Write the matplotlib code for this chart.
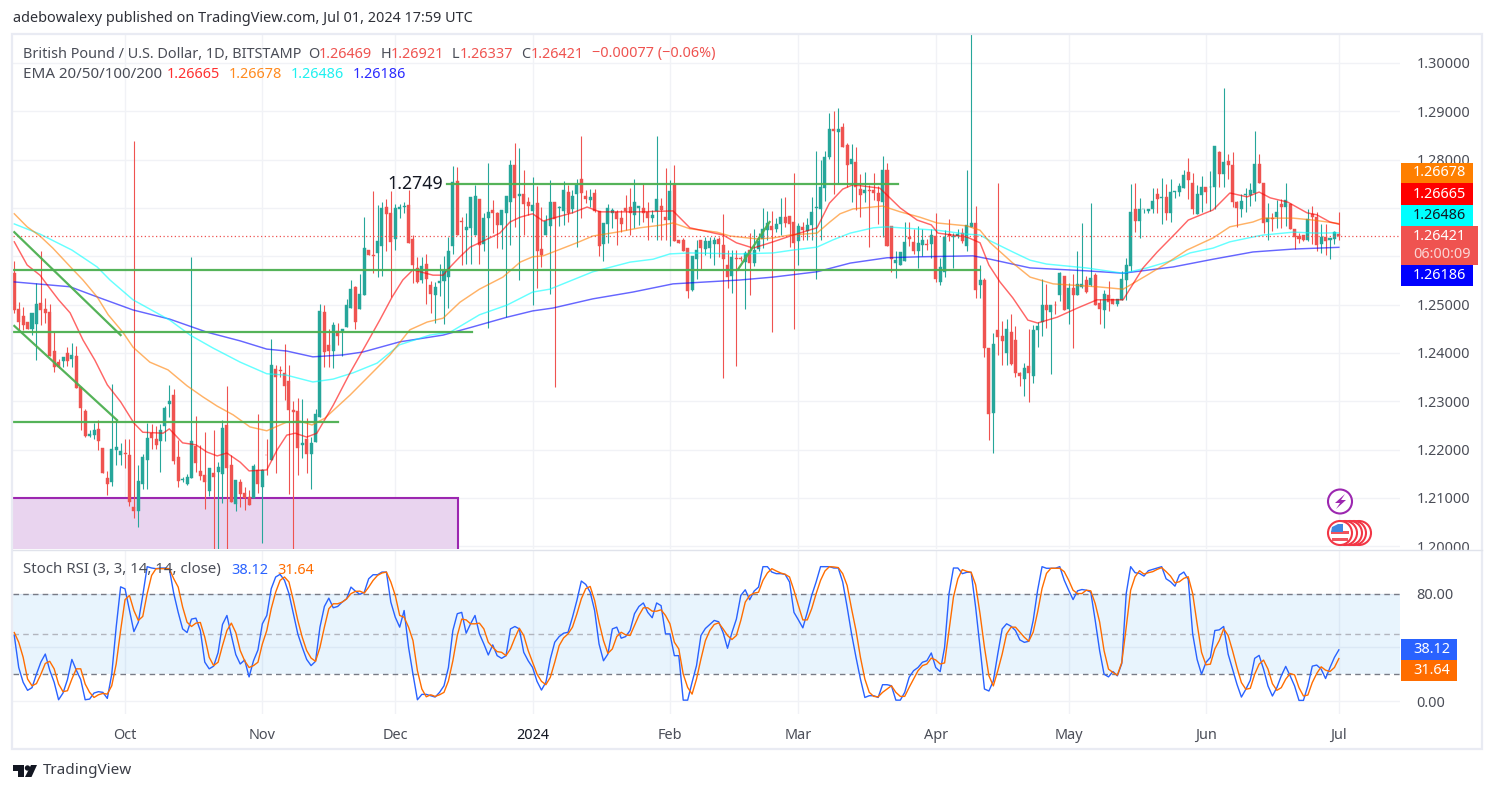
import matplotlib
matplotlib.use('Agg')
import matplotlib.pyplot as plt
from matplotlib.patches import Rectangle, Circle, Polygon, Wedge
import pandas as pd

# daily bars, seven days a week
first_day = '2023-09-06'

opens = [
    1.2565,1.2491,1.2477,1.2464,1.2450,1.2460,1.2503,1.2492,1.2485,1.2404,
    1.2382,1.2383,1.2399,1.2387,1.2394,1.2329,1.2280,1.2228,1.2230,1.2243,
    1.2203,1.2141,1.2132,1.2199,1.2189,1.2193,1.2189,1.2082,1.2072,1.2129,
    1.2179,1.2234,1.2223,1.2217,1.2248,1.2295,1.2313,1.2185,1.2138,1.2129,
    1.2142,1.2208,1.2156,1.2148,1.2115,1.2151,1.2154,1.2150,1.2251,1.2168,
    1.2087,1.2133,1.2110,1.2101,1.2099,1.2158,1.2123,1.2189,1.2179,1.2366,
    1.2365,1.2358,1.2342,1.2282,1.2280,1.2210,1.2222,1.2192,1.2215,1.2267,
    1.2484,1.2417,1.2404,1.2445,1.2446,1.2454,1.2494,1.2537,1.2491,1.2520,
    1.2613,1.2602,1.2607,1.2621,1.2702,1.2690,1.2636,1.2697,1.2702,1.2706,
    1.2636,1.2576,1.2550,1.2585,1.2540,1.2519,1.2545,1.2549,1.2557,1.2621,
    1.2756,1.2673,1.2654,1.2659,1.2644,1.2718,1.2626,1.2680,1.2696,1.2689,
    1.2665,1.2689,1.2713,1.2789,1.2725,1.2729,1.2712,1.2694,1.2710,1.2615,
    1.2644,1.2663,1.2712,1.2700,1.2694,1.2734,1.2698,1.2729,1.2760,1.2725,
    1.2716,1.2732,1.2693,1.2625,1.2667,1.2690,1.2692,1.2679,1.2699,1.2703,
    1.2686,1.2701,1.2699,1.2692,1.2680,1.2694,1.2705,1.2682,1.2675,1.2748,
    1.2633,1.2634,1.2617,1.2530,1.2595,1.2634,1.2616,1.2617,1.2625,1.2635,
    1.2623,1.2581,1.2560,1.2596,1.2596,1.2589,1.2613,1.2586,1.2616,1.2636,
    1.2654,1.2662,1.2657,1.2667,1.2682,1.2683,1.2671,1.2632,1.2661,1.2652,
    1.2665,1.2699,1.2698,1.2742,1.2805,1.2863,1.2858,1.2867,1.2830,1.2791,
    1.2796,1.2739,1.2732,1.2738,1.2738,1.2732,1.2713,1.2779,1.2663,1.2586,
    1.2582,1.2590,1.2640,1.2630,1.2612,1.2623,1.2625,1.2625,1.2642,1.2547,
    1.2567,1.2647,1.2641,1.2643,1.2649,1.2621,1.2660,1.2669,1.2540,1.2550,
    1.2411,1.2275,1.2447,1.2435,1.2400,1.2444,1.2426,1.2358,1.2347,1.2373,
    1.2352,1.2447,1.2464,1.2500,1.2485,1.2500,1.2519,1.2559,1.2490,1.2534,
    1.2519,1.2537,1.2550,1.2540,1.2562,1.2504,1.2488,1.2519,1.2511,1.2502,
    1.2509,1.2552,1.2580,1.2697,1.2674,1.2697,1.2694,1.2697,1.2728,1.2721,
    1.2723,1.2690,1.2734,1.2734,1.2742,1.2775,1.2752,1.2688,1.2727,1.2743,
    1.2743,1.2743,1.2816,1.2771,1.2797,1.2788,1.2712,1.2697,1.2726,1.2726,
    1.2731,1.2790,1.2751,1.2671,1.2680,1.2681,1.2709,1.2702,1.2709,1.2657,
    1.2642,1.2645,1.2633,1.2688,1.2681,1.2625,1.2641,1.2633,1.2636,1.26469]
highs = [
    1.2590,1.2506,1.2496,1.2464,1.2483,1.2544,1.2611,1.2513,1.2501,1.2444,
    1.2387,1.2391,1.2413,1.2420,1.2414,1.2329,1.2284,1.2241,1.2256,1.2262,
    1.2203,1.2156,1.2336,1.2261,1.2213,1.2223,1.2223,1.2839,1.2168,1.2192,
    1.2256,1.2254,1.2248,1.2254,1.2290,1.2334,1.2325,1.2220,1.2144,1.2150,
    1.2599,1.2270,1.2210,1.2236,1.2161,1.2240,1.2175,1.2261,1.2332,1.2189,
    1.2137,1.2140,1.2123,1.2117,1.2170,1.2274,1.2159,1.2221,1.2428,1.2375,
    1.2373,1.2419,1.2375,1.2301,1.2306,1.2304,1.2265,1.2227,1.2285,1.2501,
    1.2499,1.2449,1.2465,1.2461,1.2450,1.2512,1.2552,1.2539,1.2563,1.2681,
    1.2613,1.2735,1.2706,1.2712,1.2719,1.2735,1.2709,1.2709,1.2713,1.2737,
    1.2645,1.2599,1.2599,1.2605,1.2548,1.2547,1.2584,1.2600,1.2640,1.2787,
    1.2785,1.2681,1.2690,1.2722,1.2748,1.2718,1.2689,1.2794,1.2717,1.2692,
    1.2696,1.2725,1.2799,1.2834,1.2824,1.2779,1.2723,1.2765,1.2745,1.2703,
    1.2686,1.2758,1.2712,1.2704,1.2756,1.2747,1.2737,1.2761,1.2849,1.2737,
    1.2739,1.2740,1.2693,1.2668,1.2708,1.2699,1.2696,1.2696,1.2727,1.2741,
    1.2761,1.2704,1.2750,1.2713,1.2696,1.2849,1.2720,1.2782,1.2758,1.2789,
    1.2633,1.2637,1.2617,1.2601,1.2634,1.2634,1.2641,1.2641,1.2641,1.2641,
    1.2688,1.2613,1.2613,1.2613,1.2600,1.2610,1.2648,1.2656,1.2648,1.2699,
    1.2694,1.2694,1.2680,1.2721,1.2722,1.2683,1.2772,1.2668,1.2671,1.2679,
    1.2722,1.2818,1.2799,1.2817,1.2896,1.2901,1.2906,1.2875,1.2835,1.2832,
    1.2827,1.2770,1.2775,1.2747,1.2772,1.2746,1.2808,1.2794,1.2663,1.2610,
    1.2608,1.2671,1.2671,1.2657,1.2663,1.2656,1.2635,1.2656,1.2689,1.2596,
    1.2654,1.2678,1.2649,1.2656,1.2659,1.2778,1.3060,1.2704,1.2581,1.2556,
    1.2411,1.2441,1.2751,1.2466,1.2471,1.2480,1.2456,1.2361,1.2380,1.2449,
    1.2457,1.2464,1.2554,1.2542,1.2500,1.2507,1.2567,1.2559,1.2544,1.2563,
    1.2612,1.2668,1.2559,1.2711,1.2566,1.2511,1.2531,1.2549,1.2511,1.2512,
    1.2569,1.2596,1.2749,1.2751,1.2721,1.2698,1.2698,1.2742,1.2742,1.2762,
    1.2749,1.2760,1.2736,1.2752,1.2778,1.2804,1.2773,1.2747,1.2767,1.2743,
    1.2776,1.2829,1.2818,1.2949,1.2811,1.2816,1.2714,1.2728,1.2742,1.2752,
    1.2859,1.2811,1.2752,1.2711,1.2690,1.2716,1.2719,1.2751,1.2711,1.2657,
    1.2649,1.2645,1.2697,1.2704,1.2691,1.2666,1.2666,1.2638,1.2652,1.26921]
lows = [
    1.2483,1.2448,1.2448,1.2450,1.2437,1.2386,1.2457,1.2461,1.2394,1.2361,
    1.2368,1.2370,1.2373,1.2372,1.2327,1.2241,1.2227,1.2227,1.2221,1.2199,
    1.2152,1.2106,1.2125,1.2168,1.2168,1.2161,1.2083,1.2059,1.2039,1.2118,
    1.2119,1.2201,1.2201,1.2154,1.2217,1.2268,1.2170,1.2122,1.2132,1.2127,
    1.2142,1.2154,1.2137,1.2078,1.2105,1.1995,1.1995,1.2090,1.1995,1.2092,
    1.2073,1.2082,1.2075,1.2085,1.2099,1.2110,1.2006,1.2148,1.2179,1.2151,
    1.2350,1.2303,1.2108,1.1995,1.2148,1.2182,1.2152,1.2119,1.2215,1.2267,
    1.2372,1.2370,1.2368,1.2417,1.2394,1.2454,1.2494,1.2449,1.2491,1.2520,
    1.2603,1.2565,1.2557,1.2560,1.2612,1.2516,1.2614,1.2680,1.2690,1.2628,
    1.2545,1.2545,1.2545,1.2501,1.2483,1.2463,1.2518,1.2460,1.2494,1.2605,
    1.2644,1.2582,1.2584,1.2585,1.2644,1.2585,1.2610,1.2451,1.2648,1.2617,
    1.2615,1.2475,1.2623,1.2661,1.2550,1.2644,1.2685,1.2499,1.2534,1.2578,
    1.2644,1.2523,1.2329,1.2663,1.2665,1.2671,1.2689,1.2620,1.2680,1.2710,
    1.2703,1.2692,1.2601,1.2591,1.2627,1.2658,1.2623,1.2651,1.2654,1.2644,
    1.2658,1.2665,1.2671,1.2634,1.2671,1.2634,1.2634,1.2634,1.2621,1.2632,
    1.2628,1.2612,1.2513,1.2529,1.2554,1.2573,1.2603,1.2596,1.2582,1.2599,
    1.2349,1.2534,1.2525,1.2374,1.2590,1.2492,1.2519,1.2579,1.2610,1.2617,
    1.2634,1.2444,1.2650,1.2644,1.2661,1.2620,1.2450,1.2582,1.2633,1.2634,
    1.2634,1.2553,1.2634,1.2714,1.2801,1.2729,1.2751,1.2827,1.2744,1.2712,
    1.2696,1.2681,1.2713,1.2619,1.2716,1.2667,1.2641,1.2621,1.2568,1.2556,
    1.2582,1.2590,1.2621,1.2604,1.2575,1.2600,1.2614,1.2597,1.2547,1.2540,
    1.2557,1.2631,1.2575,1.2638,1.2628,1.2611,1.2660,1.2513,1.2513,1.2392,
    1.2220,1.2194,1.2396,1.2376,1.2376,1.2376,1.2350,1.2332,1.2311,1.2298,
    1.2337,1.2412,1.2435,1.2452,1.2356,1.2481,1.2507,1.2489,1.2459,1.2411,
    1.2519,1.2535,1.2525,1.2538,1.2500,1.2459,1.2451,1.2487,1.2502,1.2497,
    1.2509,1.2509,1.2569,1.2651,1.2638,1.2689,1.2690,1.2690,1.2690,1.2666,
    1.2676,1.2671,1.2721,1.2725,1.2742,1.2718,1.2687,1.2687,1.2692,1.2711,
    1.2694,1.2697,1.2744,1.2744,1.2761,1.2703,1.2660,1.2682,1.2691,1.2704,
    1.2714,1.2751,1.2649,1.2633,1.2652,1.2658,1.2659,1.2663,1.2656,1.2616,
    1.2628,1.2631,1.2631,1.2625,1.2612,1.2606,1.2603,1.2594,1.2625,1.26337]
closes = [
    1.2489,1.2465,1.2457,1.2450,1.2483,1.2501,1.2489,1.2482,1.2394,1.2370,
    1.2370,1.2391,1.2383,1.2395,1.2327,1.2287,1.2228,1.2232,1.2241,1.2217,
    1.2152,1.2129,1.2201,1.2205,1.2197,1.2190,1.2092,1.2074,1.2135,1.2185,
    1.2225,1.2225,1.2210,1.2241,1.2286,1.2300,1.2177,1.2136,1.2140,1.2143,
    1.2218,1.2173,1.2146,1.2132,1.2161,1.2144,1.2164,1.2244,1.2163,1.2092,
    1.2137,1.2108,1.2099,1.2085,1.2166,1.2129,1.2158,1.2188,1.2375,1.2351,
    1.2363,1.2332,1.2281,1.2278,1.2204,1.2214,1.2191,1.2214,1.2274,1.2487,
    1.2403,1.2404,1.2458,1.2435,1.2449,1.2499,1.2532,1.2465,1.2522,1.2617,
    1.2603,1.2600,1.2632,1.2700,1.2688,1.2630,1.2700,1.2702,1.2705,1.2628,
    1.2582,1.2547,1.2580,1.2553,1.2522,1.2537,1.2549,1.2570,1.2611,1.2754,
    1.2644,1.2670,1.2660,1.2722,1.2725,1.2623,1.2679,1.2691,1.2689,1.2665,
    1.2696,1.2725,1.2789,1.2721,1.2729,1.2708,1.2704,1.2706,1.2612,1.2603,
    1.2674,1.2712,1.2677,1.2703,1.2737,1.2690,1.2725,1.2748,1.2730,1.2719,
    1.2722,1.2693,1.2622,1.2668,1.2699,1.2696,1.2677,1.2667,1.2694,1.2690,
    1.2712,1.2704,1.2690,1.2680,1.2686,1.2719,1.2695,1.2675,1.2736,1.2632,
    1.2628,1.2612,1.2529,1.2601,1.2614,1.2617,1.2631,1.2632,1.2634,1.2625,
    1.2594,1.2558,1.2598,1.2594,1.2595,1.2607,1.2586,1.2613,1.2631,1.2656,
    1.2668,1.2654,1.2667,1.2682,1.2668,1.2666,1.2628,1.2662,1.2654,1.2665,
    1.2691,1.2703,1.2744,1.2805,1.2863,1.2860,1.2863,1.2827,1.2788,1.2801,
    1.2743,1.2727,1.2737,1.2736,1.2732,1.2714,1.2779,1.2621,1.2594,1.2592,
    1.2608,1.2630,1.2635,1.2611,1.2627,1.2633,1.2623,1.2645,1.2554,1.2578,
    1.2641,1.2642,1.2643,1.2647,1.2632,1.2664,1.2669,1.2530,1.2550,1.2411,
    1.2274,1.2418,1.2433,1.2425,1.2449,1.2378,1.2358,1.2352,1.2368,1.2358,
    1.2447,1.2456,1.2500,1.2488,1.2500,1.2499,1.2565,1.2489,1.2535,1.2519,
    1.2542,1.2542,1.2526,1.2556,1.2500,1.2492,1.2521,1.2505,1.2502,1.2512,
    1.2554,1.2581,1.2692,1.2673,1.2698,1.2698,1.2698,1.2714,1.2718,1.2723,
    1.2690,1.2734,1.2736,1.2745,1.2769,1.2758,1.2697,1.2728,1.2743,1.2733,
    1.2744,1.2829,1.2771,1.2795,1.2788,1.2712,1.2699,1.2714,1.2728,1.2738,
    1.2792,1.2751,1.2668,1.2680,1.2678,1.2692,1.2702,1.2716,1.2656,1.2640,
    1.2635,1.2633,1.2678,1.2681,1.2623,1.2641,1.2632,1.2638,1.2650,1.26421]

ema20_bar = [0,2.9,5.8,8,10,12.6,15.5,18.2,21,24,27,29,33.6,35,38,41,43.5,45.8,48,51,53,57,59.3,61.5,63.4,66,68.3,72,75.8,80,82.5,85.3,87.7,90,94.5,96.8,98.4,100.6,102.9,105,109.6,111.9,114.2,117,119.4,121.6,126,129.3,132.2,141.2,148.7,152.5,160,163,166.8,171.3,175.8,181.2,184,187,189.3,195.4,200,203.8,207,208.5,215,218,220,222.5,225.4,228.8,231,235.4,240,244.4,250.3,254.8,258,262.4,265,270.6,274.4,278.3,281,283.5,287.5,291.8,294,297,299]
ema20_val = [1.2630,1.2582,1.2561,1.2534,1.2510,1.2483,1.2427,1.2385,1.2334,1.2299,1.2255,1.2236,1.2234,1.2243,1.2214,1.2210,1.2195,1.2187,1.2193,1.2174,1.2156,1.2158,1.2199,1.2230,1.2234,1.2226,1.2234,1.2292,1.2359,1.2427,1.2468,1.2516,1.2551,1.2572,1.2561,1.2561,1.2578,1.2599,1.2619,1.2628,1.2648,1.2671,1.2681,1.2688,1.2673,1.2679,1.2690,1.2702,1.2692,1.2692,1.2694,1.2659,1.2644,1.2628,1.2617,1.2630,1.2644,1.2659,1.2710,1.2739,1.2748,1.2741,1.2700,1.2675,1.2665,1.2648,1.2640,1.2628,1.2582,1.2547,1.2514,1.2468,1.2462,1.2474,1.2493,1.2510,1.2510,1.2576,1.2609,1.2650,1.2675,1.2696,1.2731,1.2723,1.2733,1.2721,1.2712,1.2690,1.2686,1.2671,1.26665]
ema50_bar = [0,2.9,5.8,8.7,13.3,15.5,18.7,21.2,24.5,26.8,30.6,34.7,39,42.6,45.8,49.4,53.2,57,61.5,64.5,67.2,70.1,75.8,79.6,84.8,89.3,93.2,96.8,100.6,105,110.3,114.2,117,119.4,127,130.6,136,141.2,146.4,148.7,152.5,158.6,161.6,167.7,171.3,175,181.2,184.1,186.4,189.3,196,200,204.4,208.3,215,218,220.3,225.4,229.3,234.5,244.4,250.3,255.7,260.2,264.7,270.6,274.4,279.6,281.9,288.7,293.2,299]
ema50_val = [1.2688,1.2661,1.2642,1.2617,1.2572,1.2551,1.2516,1.2479,1.2443,1.2412,1.2381,1.2365,1.2332,1.2309,1.2290,1.2272,1.2247,1.2239,1.2257,1.2259,1.2251,1.2265,1.2313,1.2348,1.2396,1.2448,1.2464,1.2472,1.2505,1.2532,1.2557,1.2588,1.2599,1.2601,1.2628,1.2642,1.2650,1.2659,1.2665,1.2669,1.2657,1.2650,1.2642,1.2636,1.2638,1.2644,1.2648,1.2671,1.2688,1.2698,1.2704,1.2692,1.2681,1.2669,1.2663,1.2654,1.2628,1.2586,1.2557,1.2543,1.2537,1.2532,1.2561,1.2586,1.2613,1.2638,1.2661,1.2671,1.2679,1.2679,1.2675,1.26678]
ema100_bar = [0,5.8,13,18.7,21.6,26.8,35.1,39.7,44.9,51,57,61.5,67.4,72,76.5,81.9,87,93.8,98.4,105,111.2,117,120.9,130.6,139,144.2,148,152.5,163.8,171.3,175.8,181.2,184.8,188.7,193.9,197,200,208.3,215,218,220.3,225.4,229.3,233,242,250.3,255.7,261.6,265.4,270.6,274.4,279.6,281.9,288.7,294,299]
ema100_val = [1.2667,1.2646,1.2613,1.2578,1.2551,1.2510,1.2468,1.2437,1.2410,1.2381,1.2357,1.2354,1.2340,1.2346,1.2359,1.2379,1.2417,1.2437,1.2443,1.2479,1.2499,1.2526,1.2532,1.2568,1.2588,1.2594,1.2605,1.2607,1.2605,1.2607,1.2613,1.2619,1.2634,1.2648,1.2659,1.2661,1.2659,1.2654,1.2646,1.2644,1.2632,1.2609,1.2592,1.2584,1.2576,1.2565,1.2576,1.2592,1.2607,1.2617,1.2630,1.2640,1.2644,1.2650,1.2648,1.26486]
ema200_bar = [0,12.6,18.7,26.8,35.1,43.5,51,57,61.5,67.4,74.2,78.7,87,96.8,103.5,111.2,117,121.6,130.6,139.6,148.7,163.8,171.3,181.2,188.7,197,204.4,216.4,220.3,229.3,242,250.3,261.6,270.6,279.6,288.7,299]
ema200_val = [1.2547,1.2537,1.2516,1.2489,1.2470,1.2443,1.2425,1.2408,1.2404,1.2392,1.2396,1.2402,1.2423,1.2437,1.2454,1.2474,1.2487,1.2493,1.2512,1.2526,1.2543,1.2551,1.2557,1.2568,1.2586,1.2597,1.2599,1.2601,1.2594,1.2576,1.2570,1.2565,1.2578,1.2594,1.2609,1.2615,1.26186]

stoch_k = [
    48.8,25,14,8,10,20,29,35,23,14,
    1,6,16,31,23,16,1,1.5,6,7,
    6.5,2,20,55,85,83.5,67.4,51.7,58.7,78.6,
    100,99,98.5,99,99,98.5,80,66,53.7,51,
    61,61.7,52.5,29,24,26,36,57,63.7,48.8,
    34.6,27.6,30.6,18,30,38,57.5,63.7,83.6,92.3,
    94.3,89.8,80,65,50,40,31,26.4,29.6,55,
    70.4,76.6,69.4,70.4,73.6,76,84.8,81.8,79.4,81,
    91,94,94,96,96,73.6,62.4,55,67.4,40,
    20,1,5,5,4,3,6.5,11.4,25,52.5,
    65,66,50.5,57.5,63.7,50,42.5,34.3,41.8,33.8,
    31.8,33.8,53.7,55.5,53.7,36.3,30,25,14.7,8.2,
    14,31.3,43.8,48,50.5,51.2,62.4,74.9,89.3,86.8,
    81,67.4,42.5,30,35,53.7,55,46.8,48,52.5,
    65,70.4,73,66,62,73,71,50,50,33.8,
    33.8,0.7,0.7,14,26.4,48.8,54,57,60,59,
    51,39.3,51,61,78.6,82.8,75.4,81.8,84.8,100,
    100,96,94.8,94.8,94.3,88.6,66,60.4,54.5,66,
    78.6,88.6,100,100,100,99,99,88.6,70,50,
    32.6,16.4,2.7,4,4,2.7,12.2,12.2,11.4,0.7,
    0.7,6.5,17.7,22.6,25,28.9,30,35.8,25,21.9,
    40,79.9,99,99,94.8,95.8,95.8,70,40,9,
    7.5,15,35,53.7,57.5,55.7,52.5,45.5,43.7,44.5,
    60,82.5,100,98.8,98.8,98.8,100,90,82.5,75.5,
    82,83,82.5,81,60,37.5,20,18,22,18.8,
    28,80,100,95.5,95,93,97,98,99,100,
    91,88.8,85.5,93.8,96,90.5,50,31,20,28.8,
    32.5,52.5,53,55.5,35,23.8,12.5,3,8.8,15.5,
    31.8,34,23.8,11.3,3.8,10,18.8,25.8,18.8,11.3,
    0.5,0.5,11.3,26,26.8,23.8,16.8,25,32.5,38.12]
stoch_d = [
    51,43.8,32.6,16.4,11.4,13,20,28,29.6,24,
    12.7,7,7.7,16.4,24,24,12.7,6.5,2.7,4.7,
    5.7,5.2,11.4,27.6,52.5,75.4,78.6,67.4,60,63,
    80,93.5,98.5,98.5,98.5,98.5,91,84.8,70,58.7,
    55.5,58,58.5,47.5,32.6,26.4,28.9,41.3,52.5,58,
    51,37.6,30,25,26.4,28.9,42.5,52.5,68.7,81,
    89.8,92.3,88.6,74.9,60,47.5,37.6,32,29.6,40,
    55,68.7,72.4,72.4,73.6,76,79.9,81.6,81.8,80.3,
    84.8,89.8,93.5,95.3,96,88.6,78.6,63.7,62.4,55,
    45,22.6,9,3.2,4.7,3.5,4.7,6.5,15,30,
    48.8,61,60.4,57.5,57.5,58,53.7,43.8,40,36.8,
    36.3,33.8,38.8,47,54.2,48.8,37.6,28.9,20.1,14.7,
    12.2,17.7,28.9,41.3,47,50,55,64.9,76.1,83.6,
    85.3,74.9,58.7,45,35.5,38.8,48,51.2,49.3,48.8,
    56.2,63.7,69.4,69.4,66.9,66.9,67.9,63.7,57.5,43.8,
    38.8,20.1,10.2,5.2,16.4,31.3,44.9,52.5,57,58.2,
    53.7,48.8,45.8,48.8,60,73.6,78.6,80.3,81,89.8,
    95.3,98.5,96.8,95.3,94.3,92.3,82.3,71.1,60.4,60.4,
    68.7,79.9,89.8,96.8,100,99.8,99.3,94.8,86,68.7,
    52.5,32.6,16.4,6.5,3.5,3.2,6.5,9,11.4,6.5,
    3.5,3.5,10.2,16.4,22.6,26.4,27.6,32,30.6,27.6,
    28.4,52.5,77.4,91,97.8,96.5,95.8,86.6,64.9,40,
    18.9,11.3,22.5,35,50,55,55,51.3,47.5,44.5,
    51.3,66.3,83.8,95,98.8,98.8,98.8,96.3,90,82.5,
    80,80,82.5,82,72.5,58.8,37.5,23.8,21.3,19.3,
    28.8,55,82.5,92.5,97,94.5,95.5,96.3,98,99.3,
    96.3,93,88,88.8,91.3,92.5,80,57.5,36.3,27,
    27.5,38.8,45,53.8,48.8,37.5,25,13.8,8.8,9.5,
    20,27.5,30.5,23.8,13,8,10,16.3,20.5,19.5,
    10,3.8,4.5,13.8,20.5,25.5,23,22,25,31.64]

# drawn levels and trend lines
level_prices = [1.2749, 1.2572, 1.2443, 1.2258]
level_starts = [97.7, -1, -1, -1]
level_ends = [199.5, 218, 103.3, 73]
trend_bars = [(0, 24), (0, 23.2), (163.3, 170.5)]
trend_prices = [(1.2650, 1.2437), (1.2456, 1.2261), (1.2572, 1.2671)]

month_days = ['2023-10-01','2023-11-01','2023-12-01','2024-01-01','2024-02-01','2024-03-01','2024-04-01','2024-05-01','2024-06-01','2024-07-01']
month_names = ['Oct','Nov','Dec','2024','Feb','Mar','Apr','May','Jun','Jul']
price_ticks = [1.20,1.21,1.22,1.23,1.24,1.25,1.26,1.27,1.28,1.29,1.30]
# these two sit behind the price tags
hidden_ticks = [1.26, 1.27]

UP = '#26a69a'
DOWN = '#ef5350'
GRID = '#f1f2f6'
TEXT = '#4a4d57'
FONT = 10.4
W, H = 1496, 793


def px_axes(left, top, right, bottom, **kw):
    return plt.figure(1).add_axes([left / W, 1 - bottom / H, (right - left) / W, (bottom - top) / H], **kw)


def draw_candles(ax, bars):
    for i, (o, h, l, c) in enumerate(zip(opens, highs, lows, closes)):
        col = UP if c >= o else DOWN
        ax.vlines(bars[i], l, h, color=col, linewidth=0.8, zorder=3)
        ax.add_patch(Rectangle((bars[i] - 0.34, min(o, c)), 0.68, abs(c - o), facecolor=col, edgecolor=col, linewidth=0.3, zorder=3))


def setup_pane(ax, month_pos):
    ax.set_xlim(-0.29, 312.8)
    ax.set_xticks(month_pos)
    ax.grid(True, color=GRID, linewidth=1)
    ax.set_axisbelow(True)
    ax.tick_params(length=0, labelcolor=TEXT, labelsize=FONT)
    ax.yaxis.tick_right()
    for s in ax.spines.values():
        s.set_visible(False)


def main():
    plt.rcParams['font.family'] = ['Noto Sans', 'DejaVu Sans']
    fig = plt.figure(1, figsize=(W / 100, H / 100), dpi=100, facecolor='white')
    bars = list(range(len(closes)))
    start = pd.Timestamp(first_day)
    month_pos = [(pd.Timestamp(d) - start).days for d in month_days]

    ax = px_axes(13, 34, 1400, 549)
    setup_pane(ax, month_pos)
    ax.set_ylim(1.19944, 1.3060)
    ax.set_yticks(price_ticks)
    ax.set_yticklabels(['' if p in hidden_ticks else '%.5f' % p for p in price_ticks])
    ax.tick_params(axis='x', labelbottom=False)
    ax.tick_params(axis='y', pad=12)

    ax.add_patch(Rectangle((-1, 1.19), 101.2, 0.02, facecolor='#e9d4ef', edgecolor='#9c27b0', linewidth=1.5, zorder=2))
    draw_candles(ax, bars)
    for xs, ys, col in [(ema200_bar, ema200_val, '#0000ff'), (ema100_bar, ema100_val, '#00ffff'),
                        (ema50_bar, ema50_val, '#ff7f00'), (ema20_bar, ema20_val, '#ff0000')]:
        ax.plot(xs, ys, color=col, linewidth=1.05, alpha=0.6, zorder=4)
    for p, s, e in zip(level_prices, level_starts, level_ends):
        ax.plot([s, e], [p, p], color='#4caf50', linewidth=1.6, zorder=5, alpha=0.95)
    for xs, ys in zip(trend_bars, trend_prices):
        ax.plot(xs, ys, color='#4caf50', linewidth=1.6, zorder=5, alpha=0.95)
    ax.axhline(closes[-1], color=DOWN, linewidth=0.9, linestyle=(0, (1, 2)), zorder=4)
    ax.text(96.8, level_prices[0], '1.2749', ha='right', va='center', fontsize=12.8, fontweight='bold', family='Noto Sans', color='#131722', zorder=6)

    sx = px_axes(13, 550, 1400, 714)
    setup_pane(sx, month_pos)
    sx.set_ylim(-9.6, 112.4)
    sx.set_yticks([0, 40, 80])
    sx.set_yticklabels(['0.00', '', '80.00'])
    sx.tick_params(axis='y', pad=12)
    sx.set_xticklabels(month_names)
    sx.tick_params(axis='x', pad=10)
    for lab in sx.get_xticklabels():
        if lab.get_text() == '2024':
            lab.set_fontweight('bold')
            lab.set_color('#131722')
    sx.axhspan(20, 80, color='#2196f3', alpha=0.1, linewidth=0, zorder=1)
    sx.axhline(80, color='#787b86', linewidth=1, linestyle=(0, (4, 3)), zorder=2)
    sx.axhline(50, color='#b2b5be', linewidth=1, linestyle=(0, (4, 3)), zorder=2)
    sx.axhline(20, color='#787b86', linewidth=1, linestyle=(0, (4, 3)), zorder=2)
    sx.plot(bars, stoch_k, color='#2962ff', linewidth=1.0, zorder=3)
    sx.plot(bars, stoch_d, color='#ff6d00', linewidth=1.0, zorder=4)

    # overlay in picture pixels for the frame, legends, price tags and logos
    ov = fig.add_axes([0, 0, 1, 1], zorder=5)
    ov.set_xlim(0, W)
    ov.set_ylim(H, 0)
    ov.axis('off')
    ov.patch.set_alpha(0)
    ov.add_patch(Rectangle((1401, 549.5), 80, 12, facecolor='white', edgecolor='none'))
    ov.add_patch(Rectangle((12, 33.5), 1470.5, 715.5, fill=False, edgecolor='#e9ebf3', linewidth=1.6))
    ov.plot([13, 1482], [549.5, 549.5], color='#e0e3eb', linewidth=1)

    def label(x, y, s, col=TEXT, size=FONT, **kw):
        ov.text(x, y, s, color=col, fontsize=size, va='center', ha=kw.pop('ha', 'left'), **kw)

    label(13, 19, 'adebowalexy published on TradingView.com, Jul 01, 2024 17:59 UTC', col='#2e3038')
    label(23, 54, 'British Pound / U.S. Dollar, 1D, BITSTAMP')
    for x, s in [(308, 'O'), (381, 'H'), (452, 'L'), (521, 'C')]:
        label(x, 54, s)
    for x, s in [(319, '1.26469'), (391, '1.26921'), (460, '1.26337'), (531, '1.26421'), (592, '\u22120.00077 (\u22120.06%)')]:
        label(x, 54, s, col=DOWN)
    label(23, 75, 'EMA 20/50/100/200', size=10.9)
    for x, s, col in [(167, '1.26665', '#ff3030'), (229, '1.26678', '#ff8a1e'), (291, '1.26486', '#1ff0f0'), (353, '1.26186', '#2b2bff')]:
        label(x, 75, s, col=col)
    label(23, 570, 'Stoch RSI (3, 3, 14, 14, close)', size=10.8)
    label(231, 570, '38.12', col='#2962ff')
    label(277, 570, '31.64', col='#ff6d00')

    tags = [(163, 183, '#ff7f00', '1.26678', 'white'), (183, 205, '#ff0000', '1.26665', 'white'),
            (205, 226, '#00ffff', '1.26486', '#131722'), (265, 286, '#0000ff', '1.26186', 'white')]
    for top, bot, col, s, tc in tags:
        ov.add_patch(Rectangle((1401, top), 72, bot - top, facecolor=col, edgecolor='none'))
        label(1413, (top + bot) / 2, s, col=tc)
    ov.add_patch(Rectangle((1401, 226), 77, 39, facecolor=DOWN, edgecolor='none'))
    label(1413, 236.5, '1.26421', col='white')
    label(1413, 255, '06:00:09', col='#fbd5d4')
    ov.add_patch(Rectangle((1401, 639), 56, 21, facecolor='#2962ff', edgecolor='none'))
    label(1413, 649.5, '38.12', col='white')
    ov.add_patch(Rectangle((1401, 660), 56, 21, facecolor='#ff6d00', edgecolor='none'))
    label(1413, 670.5, '31.64', col='white')

    # event icons on the time scale
    ov.add_patch(Circle((1340, 501.5), 12, facecolor='white', edgecolor='#9c27b0', linewidth=1.5))
    ov.add_patch(Polygon([(1345, 494), (1335, 503), (1340, 503), (1336, 509), (1346, 500), (1341, 500)], facecolor='#9c27b0'))
    for cx in [1359, 1354, 1350, 1345]:
        ov.add_patch(Circle((cx, 533), 12, facecolor='white', edgecolor='#f23645', linewidth=1.5))
    ov.add_patch(Circle((1340, 533), 12, facecolor='white', edgecolor='#f23645', linewidth=1.5))
    ov.add_patch(Wedge((1340, 533), 10, 0, 360, width=10, facecolor='white'))
    ov.add_patch(Rectangle((1331, 531), 18, 3, facecolor='#f0545e'))
    ov.add_patch(Rectangle((1332, 538), 16, 3, facecolor='#f0545e'))
    ov.add_patch(Polygon([(1332, 527), (1338, 524), (1343, 524), (1343, 532), (1331, 532)], facecolor='#3f87e0'))

    # logo
    ov.add_patch(Polygon([(13, 765), (24, 765), (24, 777), (18.5, 777), (18.5, 770.5), (13, 770.5)], facecolor='#131722'))
    ov.add_patch(Circle((27.5, 768), 2.7, facecolor='#131722'))
    ov.add_patch(Polygon([(31, 765), (37, 765), (31.5, 777), (25, 777)], facecolor='#131722'))
    label(43, 771, 'TradingView', col='#3a3d46', size=11)

    fig.savefig('out.png', dpi=100)


if __name__ == '__main__':
    main()
